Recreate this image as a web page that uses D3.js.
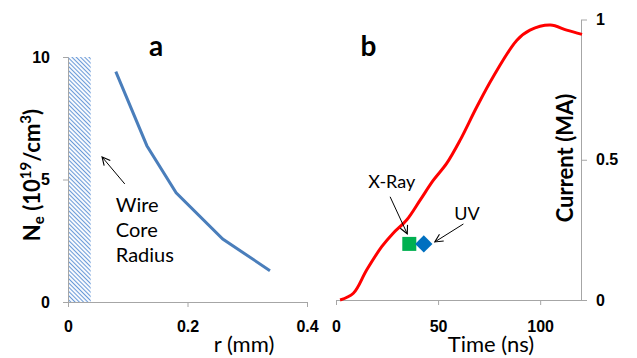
<!DOCTYPE html>
<html>
<head>
<meta charset="utf-8">
<script src="https://cdnjs.cloudflare.com/ajax/libs/d3/7.8.5/d3.min.js"></script>
<style>
  body { margin: 0; background: #fff; }
  svg { font-family: Lato, "Open Sans", sans-serif; }
  .axis path, .axis line { stroke: #a6a6a6; }
  .axis text { font-weight: bold; font-size: 16px; fill: #000; }
</style>
</head>
<body>
<svg id="chart" width="637" height="358"></svg>
<script>
// panel a: electron density vs radius
var radius = [0.08, 0.132, 0.181, 0.259, 0.338];
var density = [9.4, 6.38, 4.46, 2.57, 1.28];
var coreRadius = 0.038;
var ticksA_x = [0, 0.2, 0.4];
var ticksA_y = [0, 5, 10];

// panel b: current vs time
var time = [2, 8.5, 15, 22.4, 28, 34.6, 41.2, 47.7, 54.2, 60.8, 69, 77, 88.6, 95, 105, 113, 120.5];
var current = [0, 0.024, 0.107, 0.19, 0.238, 0.285, 0.356, 0.427, 0.487, 0.57, 0.689, 0.796, 0.926, 0.962, 0.98, 0.962, 0.947];
var ticksB_x = [0, 50, 100];
var ticksB_y = [0, 0.5, 1];
var xrayPoint = {t: 35.9, i: 0.2};
var uvPoint = {t: 43, i: 0.2};

var svg = d3.select("#chart");

var defs = svg.append("defs");
defs.append("marker")
  .attr("id", "arrow")
  .attr("viewBox", "0 0 10 10")
  .attr("refX", 9).attr("refY", 5)
  .attr("markerWidth", 10).attr("markerHeight", 10)
  .attr("markerUnits", "userSpaceOnUse")
  .attr("orient", "auto")
  .append("path")
  .attr("d", "M1,1 L9,5 L1,9")
  .attr("fill", "none")
  .attr("stroke", "#000")
  .attr("stroke-width", 1.1);

var hatch = defs.append("pattern")
  .attr("id", "hatch")
  .attr("patternUnits", "userSpaceOnUse")
  .attr("width", 3).attr("height", 3)
  .attr("patternTransform", "rotate(45)");
hatch.append("rect").attr("width", 3).attr("height", 3).attr("fill", "#fff");
hatch.append("line")
  .attr("x1", 0).attr("y1", 1.5).attr("x2", 3).attr("y2", 1.5)
  .attr("stroke", "#6a9ad8").attr("stroke-width", 1.1);

// ---------- panel a ----------
var xA = d3.scaleLinear().domain([0, 0.4]).range([68, 307]);
var yA = d3.scaleLinear().domain([0, 10]).range([302, 57]);

svg.append("rect")
  .attr("x", xA(0)).attr("y", yA(10))
  .attr("width", xA(coreRadius) - xA(0))
  .attr("height", yA(0) - yA(10))
  .attr("fill", "url(#hatch)");

svg.append("g").attr("class", "axis")
  .attr("transform", "translate(" + xA(0) + ",0)")
  .call(d3.axisLeft(yA).tickValues(ticksA_y).tickSize(5).tickSizeOuter(0).tickPadding(13));

svg.append("g").attr("class", "axis")
  .attr("transform", "translate(0," + yA(0) + ")")
  .call(d3.axisBottom(xA).tickValues(ticksA_x).tickSize(5).tickSizeOuter(0).tickPadding(14)
    .tickFormat(function(d){ return d === 0 ? "0" : d3.format(".1f")(d); }));

svg.append("path")
  .datum(radius.map(function(r, i){ return [r, density[i]]; }))
  .attr("fill", "none")
  .attr("stroke", "#4a7ebb")
  .attr("stroke-width", 3)
  .attr("d", d3.line().x(function(d){ return xA(d[0]); }).y(function(d){ return yA(d[1]); }));

// wire core annotation
svg.append("line")
  .attr("x1", xA(0.095)).attr("y1", yA(4.82))
  .attr("x2", xA(0.057)).attr("y2", yA(5.92))
  .attr("stroke", "#000").attr("stroke-width", 1)
  .attr("marker-end", "url(#arrow)");
var wire = svg.append("text")
  .attr("x", xA(0.08)).attr("y", yA(3.67))
  .style("font-size", "20px");
["Wire", "Core", "Radius"].forEach(function(s, i){
  wire.append("tspan").attr("x", xA(0.08)).attr("dy", i ? 25 : 0).text(s);
});

svg.append("text")
  .attr("x", 156).attr("y", 56)
  .attr("text-anchor", "middle")
  .style("font-size", "28px").style("font-weight", "bold")
  .text("a");

svg.append("text")
  .attr("x", 244).attr("y", 352)
  .attr("text-anchor", "middle")
  .style("font-size", "22px")
  .text("r (mm)");

var neLabel = svg.append("text")
  .attr("transform", "translate(40,175) rotate(-90)")
  .attr("text-anchor", "middle")
  .style("font-size", "22px").style("font-weight", "bold");
neLabel.append("tspan").text("N");
neLabel.append("tspan").attr("baseline-shift", "-25%").style("font-size", "15px").text("e");
neLabel.append("tspan").text(" (10");
neLabel.append("tspan").attr("baseline-shift", "super").style("font-size", "15px").text("19");
neLabel.append("tspan").text("/cm");
neLabel.append("tspan").attr("baseline-shift", "super").style("font-size", "15px").text("3");
neLabel.append("tspan").text(")");

// ---------- panel b ----------
var xB = d3.scaleLinear().domain([0, 120]).range([336, 581]);
var yB = d3.scaleLinear().domain([0, 1]).range([300, 19.5]);

svg.append("g").attr("class", "axis")
  .attr("transform", "translate(0," + yB(0) + ")")
  .call(d3.axisBottom(xB).tickValues(ticksB_x).tickSize(5).tickSizeOuter(0).tickPadding(16));

svg.append("g").attr("class", "axis")
  .attr("transform", "translate(" + xB(120) + ",0)")
  .call(d3.axisRight(yB).tickValues(ticksB_y).tickSize(6).tickSizeOuter(0).tickPadding(9)
    .tickFormat(function(d){ return d === 0.5 ? "0.5" : d3.format("d")(d); }));

svg.append("path")
  .datum(time.map(function(t, i){ return [t, current[i]]; }))
  .attr("fill", "none")
  .attr("stroke", "#ff0000")
  .attr("stroke-width", 3)
  .attr("d", d3.line().curve(d3.curveCatmullRom.alpha(0.5))
    .x(function(d){ return xB(d[0]); }).y(function(d){ return yB(d[1]); }));

svg.append("rect")
  .attr("x", xB(xrayPoint.t) - 7).attr("y", yB(xrayPoint.i) - 7)
  .attr("width", 14).attr("height", 14)
  .attr("fill", "#00b050");
svg.append("path")
  .attr("d", d3.symbol().type(d3.symbolSquare).size(150))
  .attr("transform", "translate(" + xB(uvPoint.t) + "," + yB(uvPoint.i) + ") rotate(45)")
  .attr("fill", "#0070c0");

svg.append("line")
  .attr("x1", xB(26.5)).attr("y1", yB(0.368))
  .attr("x2", xB(34.9)).attr("y2", yB(0.236))
  .attr("stroke", "#000").attr("stroke-width", 1)
  .attr("marker-end", "url(#arrow)");
svg.append("line")
  .attr("x1", xB(62.4)).attr("y1", yB(0.271))
  .attr("x2", xB(48.4)).attr("y2", yB(0.207))
  .attr("stroke", "#000").attr("stroke-width", 1)
  .attr("marker-end", "url(#arrow)");

svg.append("text")
  .attr("x", xB(27.3)).attr("y", yB(0.399))
  .attr("text-anchor", "middle")
  .style("font-size", "18px")
  .text("X-Ray");
svg.append("text")
  .attr("x", xB(64.1)).attr("y", yB(0.285))
  .attr("text-anchor", "middle")
  .style("font-size", "18px")
  .text("UV");

svg.append("text")
  .attr("x", 368.5).attr("y", 56)
  .attr("text-anchor", "middle")
  .style("font-size", "28px").style("font-weight", "bold")
  .text("b");

svg.append("text")
  .attr("x", 491).attr("y", 352)
  .attr("text-anchor", "middle")
  .style("font-size", "22px")
  .text("Time (ns)");

svg.append("text")
  .attr("transform", "translate(573,158) rotate(-90)")
  .attr("text-anchor", "middle")
  .style("font-size", "22px").style("font-weight", "bold")
  .text("Current (MA)");
</script>
</body>
</html>
